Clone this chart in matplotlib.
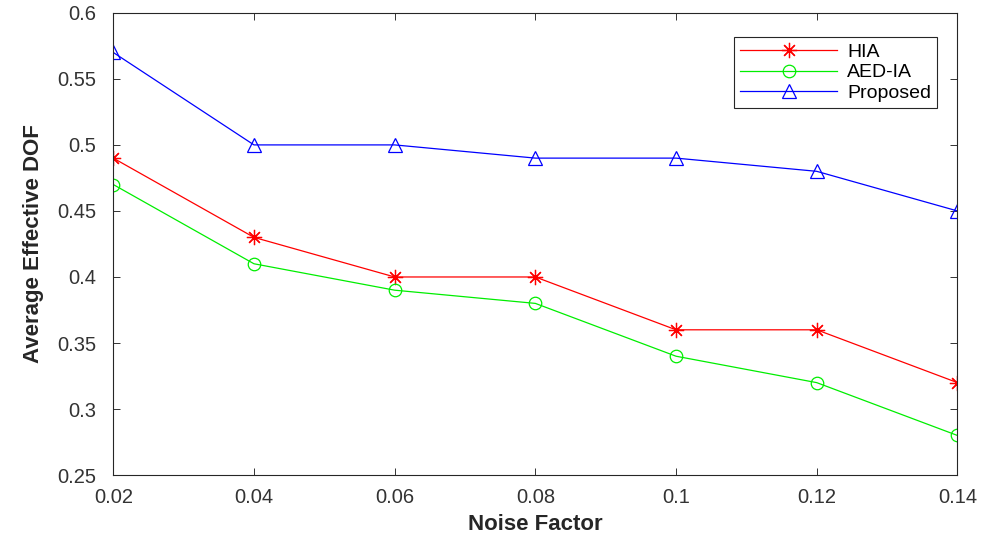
import numpy as np
import matplotlib.pyplot as plt

noise = [0.02, 0.04, 0.06, 0.08, 0.10, 0.12, 0.14]
hia = [0.49, 0.43, 0.40, 0.40, 0.36, 0.36, 0.32]
aed_ia = [0.47, 0.41, 0.39, 0.38, 0.34, 0.32, 0.28]
proposed = [0.57, 0.50, 0.50, 0.49, 0.49, 0.48, 0.45]

xticks = [0.02, 0.04, 0.06, 0.08, 0.10, 0.12, 0.14]
xlabels = ['0.02', '0.04', '0.06', '0.08', '0.1', '0.12', '0.14']
yticks = [0.25, 0.3, 0.35, 0.4, 0.45, 0.5, 0.55, 0.6]
ylabels = ['0.25', '0.3', '0.35', '0.4', '0.45', '0.5', '0.55', '0.6']

plt.rcParams['font.family'] = ['Liberation Sans', 'DejaVu Sans']

fig = plt.figure(figsize=(9.85, 5.35), dpi=100)
ax = fig.add_axes([0.115, 0.112, 0.857, 0.864])

ax.plot(noise, hia, color='#ff0000', lw=0.9, marker=(8, 2, 0), ms=11, mew=0.9,
        label='HIA')
ax.plot(noise, aed_ia, color='#00ee00', lw=0.9, marker='o', ms=9, mew=0.9,
        mfc='none', label='AED-IA')
ax.plot(noise, proposed, color='#0000ff', lw=0.9, marker='^', ms=10, mew=0.9,
        mfc='none', label='Proposed')

ax.set_xlim(0.02, 0.14)
ax.set_ylim(0.25, 0.6)
ax.set_xticks(xticks)
ax.set_xticklabels(xlabels)
ax.set_yticks(yticks)
ax.set_yticklabels(ylabels)
ax.tick_params(direction='in', top=True, right=True, labelsize=14.5,
               colors='#333333', length=5, width=0.7)
ax.tick_params(axis='x', pad=9)
ax.tick_params(axis='y', pad=12)
for s in ax.spines.values():
    s.set_color('#262626')
    s.set_linewidth(0.8)

ax.set_xlabel('Noise Factor', fontsize=16, fontweight='bold', color='#262626',
              labelpad=5)
ax.set_ylabel('Average Effective DOF', fontsize=16, fontweight='bold',
              color='#262626', labelpad=10)

leg = ax.legend(loc='upper right', bbox_to_anchor=(0.987, 0.968), fontsize=14,
                fancybox=False, edgecolor='#262626', framealpha=1,
                handlelength=5.0, handletextpad=0.5, borderpad=0.3,
                labelspacing=0.15)
leg.get_frame().set_linewidth(0.8)

plt.savefig('out.png', dpi=100)
